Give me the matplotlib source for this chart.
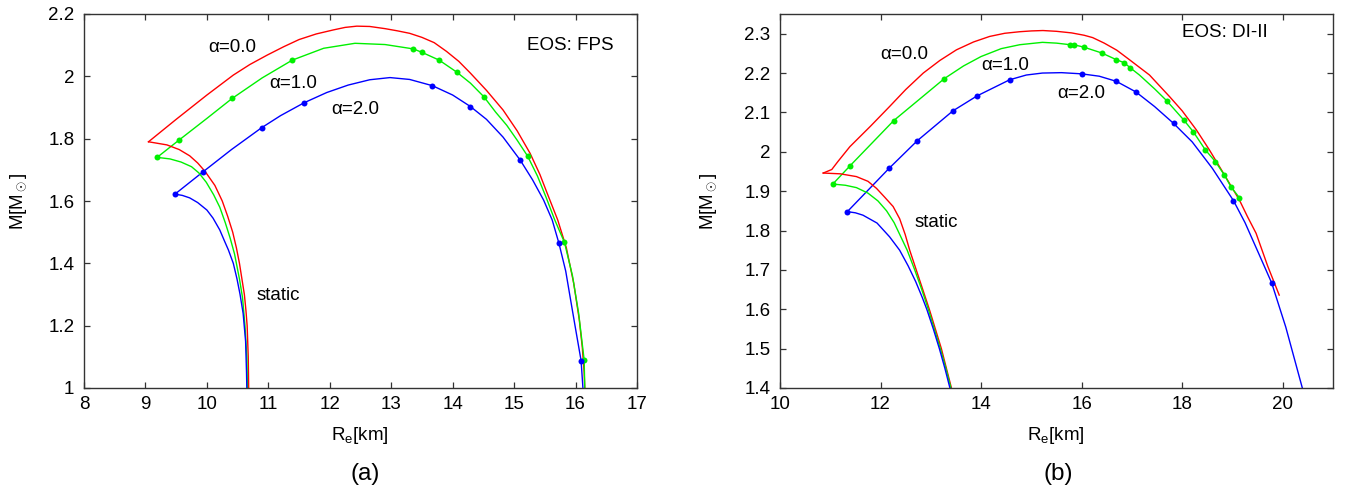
import matplotlib
matplotlib.use("Agg")
import matplotlib.pyplot as plt
from matplotlib.ticker import MultipleLocator, FormatStrFormatter

plt.rcParams['font.family'] = ['Liberation Sans', 'DejaVu Sans']
plt.rcParams['mathtext.fontset'] = 'custom'
plt.rcParams['mathtext.rm'] = 'Liberation Sans'
plt.rcParams['mathtext.it'] = 'Liberation Sans:italic'

# ---- panel (a): EOS FPS ----
# mass-shedding (Kepler) sequences, R_e [km] and M [Msun]
fps_kep0_r = [9.05, 9.50, 10.00, 10.43, 10.70, 10.98, 11.25, 11.50, 11.78, 12.06, 12.25, 12.44,
              12.65, 12.90, 13.10, 13.30, 13.50, 13.70, 13.90, 14.10, 14.29, 14.55, 14.82, 15.05,
              15.26, 15.42, 15.54, 15.71, 15.85, 15.97, 16.06, 16.11, 16.14, 16.15]
fps_kep0_m = [1.790, 1.862, 1.940, 2.004, 2.038, 2.068, 2.095, 2.118, 2.136, 2.149, 2.157, 2.161,
              2.160, 2.153, 2.146, 2.138, 2.125, 2.108, 2.080, 2.048, 2.010, 1.955, 1.892, 1.825,
              1.753, 1.685, 1.624, 1.539, 1.450, 1.336, 1.220, 1.130, 1.050, 1.000]
fps_kep1_r = [9.19, 9.55, 10.00, 10.41, 10.90, 11.39, 11.90, 12.41, 12.90, 13.36, 13.50, 13.78,
              14.07, 14.29, 14.51, 14.70, 14.88, 15.05, 15.22, 15.38, 15.52, 15.66, 15.82, 15.95,
              16.05, 16.14, 16.15]
fps_kep1_m = [1.740, 1.796, 1.865, 1.929, 1.995, 2.052, 2.090, 2.106, 2.102, 2.088, 2.077, 2.052,
              2.013, 1.978, 1.934, 1.885, 1.843, 1.795, 1.744, 1.680, 1.612, 1.540, 1.467, 1.360,
              1.240, 1.090, 1.000]
fps_kep2_r = [9.48, 9.94, 10.40, 10.89, 11.20, 11.58, 11.95, 12.30, 12.65, 12.98, 13.30, 13.67,
              14.00, 14.29, 14.55, 14.82, 15.10, 15.30, 15.48, 15.62, 15.73, 15.84, 15.92, 16.00,
              16.09, 16.12]
fps_kep2_m = [1.622, 1.694, 1.765, 1.835, 1.874, 1.915, 1.948, 1.972, 1.989, 1.996, 1.990, 1.970,
              1.940, 1.903, 1.862, 1.805, 1.731, 1.668, 1.603, 1.539, 1.464, 1.375, 1.282, 1.190,
              1.088, 1.000]
# computed models (dots)
fps_dot1_r = [9.19, 9.55, 10.41, 11.39, 13.36, 13.50, 13.78, 14.07, 14.51, 15.22, 15.82, 16.14]
fps_dot1_m = [1.740, 1.796, 1.929, 2.052, 2.088, 2.077, 2.052, 2.013, 1.934, 1.744, 1.467, 1.090]
fps_dot2_r = [9.48, 9.94, 10.89, 11.58, 13.67, 14.29, 15.10, 15.73, 16.09]
fps_dot2_m = [1.622, 1.694, 1.835, 1.915, 1.970, 1.903, 1.731, 1.464, 1.088]
# static sequences
fps_st0_r = [9.05, 9.35, 9.55, 9.72, 9.85, 9.97, 10.13, 10.25, 10.34, 10.42, 10.48, 10.53,
             10.57, 10.61, 10.635, 10.655, 10.673, 10.68]
fps_st0_m = [1.790, 1.780, 1.765, 1.745, 1.722, 1.695, 1.650, 1.600, 1.550, 1.500, 1.450, 1.400,
             1.350, 1.300, 1.250, 1.200, 1.100, 1.000]
fps_st1_r = [9.19, 9.40, 9.58, 9.75, 9.87, 9.99, 10.11, 10.21, 10.30, 10.38, 10.45, 10.53,
             10.58, 10.62, 10.65, 10.66]
fps_st1_m = [1.740, 1.735, 1.725, 1.710, 1.690, 1.660, 1.620, 1.580, 1.530, 1.480, 1.430, 1.350,
             1.290, 1.200, 1.100, 1.000]
fps_st2_r = [9.48, 9.60, 9.72, 9.85, 10.00, 10.10, 10.21, 10.29, 10.35, 10.43, 10.49, 10.54,
             10.59, 10.63, 10.645, 10.65]
fps_st2_m = [1.622, 1.618, 1.610, 1.595, 1.571, 1.545, 1.507, 1.470, 1.443, 1.400, 1.350, 1.300,
             1.239, 1.150, 1.050, 1.000]

# ---- panel (b): EOS DI-II ----
di_kep0_r = [10.86, 11.03, 11.15, 11.39, 11.80, 12.18, 12.50, 12.85, 13.18, 13.51, 13.85, 14.17,
             14.47, 14.77, 15.00, 15.23, 15.50, 15.80, 16.05, 16.22, 16.45, 16.70, 16.95, 17.35,
             17.75, 18.00, 18.28, 18.54, 18.80, 18.94, 19.14, 19.30, 19.47, 19.70, 19.93]
di_kep0_m = [1.946, 1.955, 1.975, 2.013, 2.065, 2.115, 2.158, 2.200, 2.232, 2.259, 2.279, 2.293,
             2.301, 2.305, 2.307, 2.308, 2.306, 2.302, 2.296, 2.290, 2.276, 2.258, 2.234, 2.195,
             2.140, 2.104, 2.056, 2.005, 1.950, 1.920, 1.877, 1.835, 1.793, 1.710, 1.636]
di_kep1_r = [11.05, 11.39, 12.26, 13.27, 13.65, 14.00, 14.40, 14.77, 15.22, 15.50, 15.77, 15.84,
             16.04, 16.40, 16.69, 16.85, 16.97, 17.15, 17.45, 17.69, 18.03, 18.22, 18.46, 18.66,
             18.84, 18.97, 19.14]
di_kep1_m = [1.918, 1.964, 2.079, 2.186, 2.218, 2.242, 2.262, 2.272, 2.278, 2.276, 2.272, 2.272,
             2.266, 2.251, 2.234, 2.226, 2.213, 2.195, 2.160, 2.130, 2.081, 2.051, 2.005, 1.975,
             1.941, 1.911, 1.883]
di_kep2_r = [11.34, 12.17, 12.73, 13.44, 13.92, 14.57, 14.90, 15.22, 15.60, 16.00, 16.35, 16.69,
             17.08, 17.45, 17.83, 18.20, 18.60, 19.02, 19.25, 19.50, 19.78, 20.06, 20.39]
di_kep2_m = [1.848, 1.958, 2.028, 2.104, 2.142, 2.183, 2.195, 2.200, 2.201, 2.198, 2.192, 2.179,
             2.152, 2.115, 2.072, 2.025, 1.958, 1.876, 1.820, 1.748, 1.667, 1.555, 1.400]
di_dot1_r = [11.05, 11.39, 12.26, 13.27, 15.77, 15.84, 16.04, 16.40, 16.69, 16.85, 16.97, 17.69,
             18.03, 18.22, 18.46, 18.66, 18.84, 18.97, 19.14]
di_dot1_m = [1.918, 1.964, 2.079, 2.186, 2.272, 2.272, 2.266, 2.251, 2.234, 2.226, 2.213, 2.130,
             2.081, 2.051, 2.005, 1.975, 1.941, 1.911, 1.883]
di_dot2_r = [11.34, 12.17, 12.73, 13.44, 13.92, 14.57, 16.00, 16.69, 17.08, 17.83, 19.02, 19.78]
di_dot2_m = [1.848, 1.958, 2.028, 2.104, 2.142, 2.183, 2.198, 2.179, 2.152, 2.072, 1.876, 1.667]
di_st0_r = [10.86, 11.20, 11.52, 11.75, 11.92, 12.08, 12.25, 12.38, 12.49, 12.58, 12.71, 12.84,
            12.97, 13.09, 13.21, 13.31, 13.41]
di_st0_m = [1.946, 1.944, 1.937, 1.925, 1.907, 1.885, 1.861, 1.830, 1.790, 1.750, 1.700, 1.650,
            1.600, 1.550, 1.500, 1.450, 1.400]
di_st1_r = [11.05, 11.30, 11.52, 11.75, 11.95, 12.12, 12.27, 12.40, 12.53, 12.68, 12.82, 12.95,
            13.07, 13.19, 13.30, 13.40]
di_st1_m = [1.918, 1.915, 1.909, 1.895, 1.875, 1.850, 1.820, 1.785, 1.750, 1.700, 1.650, 1.600,
            1.550, 1.500, 1.450, 1.400]
di_st2_r = [11.34, 11.50, 11.65, 11.93, 12.18, 12.38, 12.55, 12.70, 12.83, 12.92, 13.05, 13.17,
            13.28, 13.38]
di_st2_m = [1.848, 1.845, 1.839, 1.819, 1.784, 1.750, 1.710, 1.670, 1.630, 1.600, 1.550, 1.500,
            1.450, 1.400]

red, green, blue = '#ff0000', '#00f000', '#0000ff'
lw = 1.0
ms = 4.3
fs = 13.5


def style(ax, xlim, ylim, xstep, ystep):
    ax.set_xlim(*xlim)
    ax.set_ylim(*ylim)
    ax.xaxis.set_major_locator(MultipleLocator(xstep))
    ax.yaxis.set_major_locator(MultipleLocator(ystep))
    ax.xaxis.set_major_formatter(FormatStrFormatter('%g'))
    ax.yaxis.set_major_formatter(FormatStrFormatter('%g'))
    ax.tick_params(direction='in', top=True, right=True, length=4.5, width=0.9,
                   labelsize=fs, color='#333333')
    ax.tick_params(axis='x', pad=6)
    ax.tick_params(axis='y', pad=7)
    for s in ax.spines.values():
        s.set_linewidth(1.0)
        s.set_color('#333333')


def draw(ax, kep, st, dots):
    for (r, m), c in zip(kep, [red, green, blue]):
        ax.plot(r, m, '-', color=c, lw=lw)
    for (r, m), c in zip(st, [red, green, blue]):
        ax.plot(r, m, '-', color=c, lw=lw)
    for (r, m), c in zip(dots, [green, blue]):
        ax.plot(r, m, 'o', color=c, ms=ms, mec='none')


fig = plt.figure(figsize=(13.45, 4.92), dpi=100)
ax1 = fig.add_axes([84 / 1345, 104 / 492, 553 / 1345, 374 / 492])
ax2 = fig.add_axes([780 / 1345, 104 / 492, 553 / 1345, 374 / 492])

draw(ax1, [(fps_kep0_r, fps_kep0_m), (fps_kep1_r, fps_kep1_m), (fps_kep2_r, fps_kep2_m)],
     [(fps_st0_r, fps_st0_m), (fps_st1_r, fps_st1_m), (fps_st2_r, fps_st2_m)],
     [(fps_dot1_r, fps_dot1_m), (fps_dot2_r, fps_dot2_m)])
style(ax1, (8, 17), (1, 2.2), 1, 0.2)
ax1.text(10.41, 2.094, 'α=0.0', fontsize=fs, ha='center', va='center')
ax1.text(11.40, 1.977, 'α=1.0', fontsize=fs, ha='center', va='center')
ax1.text(12.41, 1.895, 'α=2.0', fontsize=fs, ha='center', va='center')
ax1.text(15.92, 2.098, 'EOS: FPS', fontsize=fs, ha='center', va='center')
ax1.text(11.16, 1.298, 'static', fontsize=fs, ha='center', va='center')

draw(ax2, [(di_kep0_r, di_kep0_m), (di_kep1_r, di_kep1_m), (di_kep2_r, di_kep2_m)],
     [(di_st0_r, di_st0_m), (di_st1_r, di_st1_m), (di_st2_r, di_st2_m)],
     [(di_dot1_r, di_dot1_m), (di_dot2_r, di_dot2_m)])
style(ax2, (10, 21), (1.4, 2.35), 2, 0.1)
ax2.text(12.48, 2.246, 'α=0.0', fontsize=fs, ha='center', va='center')
ax2.text(14.47, 2.218, 'α=1.0', fontsize=fs, ha='center', va='center')
ax2.text(15.99, 2.149, 'α=2.0', fontsize=fs, ha='center', va='center')
ax2.text(18.84, 2.302, 'EOS: DI-II', fontsize=fs, ha='center', va='center')
ax2.text(13.11, 1.820, 'static', fontsize=fs, ha='center', va='center')

# axis labels and panel tags
for xc, yl in [(360, 18.5), (1056, 709)]:
    fig.text(xc / 1345, 1 - 435 / 492, r'R$_\mathrm{e}$[km]', fontsize=fs, ha='center', va='center')
    fig.text(yl / 1345, 1 - 201 / 492, r'M[M$_\odot$]', fontsize=fs, ha='center', va='center',
             rotation=90)
fig.text(365 / 1345, 1 - 474 / 492, '(a)', fontsize=17.5, ha='center', va='center')
fig.text(1058 / 1345, 1 - 474 / 492, '(b)', fontsize=17.5, ha='center', va='center')

fig.savefig('out.png', dpi=100)
